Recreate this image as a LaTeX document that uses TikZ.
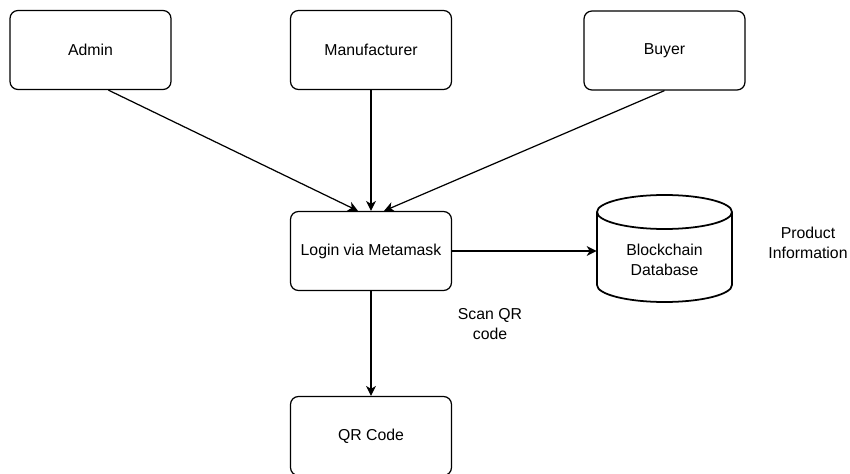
\documentclass[tikz,border=0pt]{standalone}
\usepackage{fontspec}
\setmainfont{Liberation Sans}
\usetikzlibrary{arrows.meta}

\begin{document}
\begin{tikzpicture}[x=0.02cm,y=0.02cm,
  box/.style={draw, line width=0.7pt, rounded corners=4.5pt, minimum width=3.22cm, minimum height=1.58cm, font=\fontsize{9}{11}\selectfont},
  dbnode/.style={minimum width=2.7cm, align=center, font=\fontsize{9}{11}\selectfont},
  dbline/.style={line width=1pt},
  lbl/.style={align=center, font=\fontsize{9}{11}\selectfont},
  arr/.style={-{Stealth[length=2mm,width=2mm,inset=0.6mm]}, line width=0.7pt}]
  \useasboundingbox (0,0) rectangle (850,474);

  \node[box] (admin) at (90.5,424) {Admin};
  \node[box] (manu) at (371,424) {Manufacturer};
  \node[box] (buyer) at (664.5,423.5) {Buyer};
  \node[box] (login) at (371,223) {Login via Metamask};
  \node[box] (qr) at (371,38) {QR Code};

  % database cylinder
  \draw[dbline] (597,262) -- (597,189) arc[start angle=180, end angle=360, x radius=1.35cm, y radius=0.34cm] -- (732,262);
  \draw[dbline] (664.5,262) ellipse [x radius=1.35cm, y radius=0.34cm];
  \node[dbnode] (db) at (664.5,214) {Blockchain\\Database};

  \node[lbl] (scan) at (490,150) {Scan QR\\code};
  \node[lbl] (info) at (808,231) {Product\\Information};

  \draw[arr] (admin.-66) -- (login.108);
  \draw[arr] (manu.south) -- (login.north);
  \draw[arr] (buyer.south) -- (login.72);
  \draw[arr] (login.east) -- (login.east -| db.west);
  \draw[arr] (login.south) -- (qr.north);

\end{tikzpicture}
\end{document}
